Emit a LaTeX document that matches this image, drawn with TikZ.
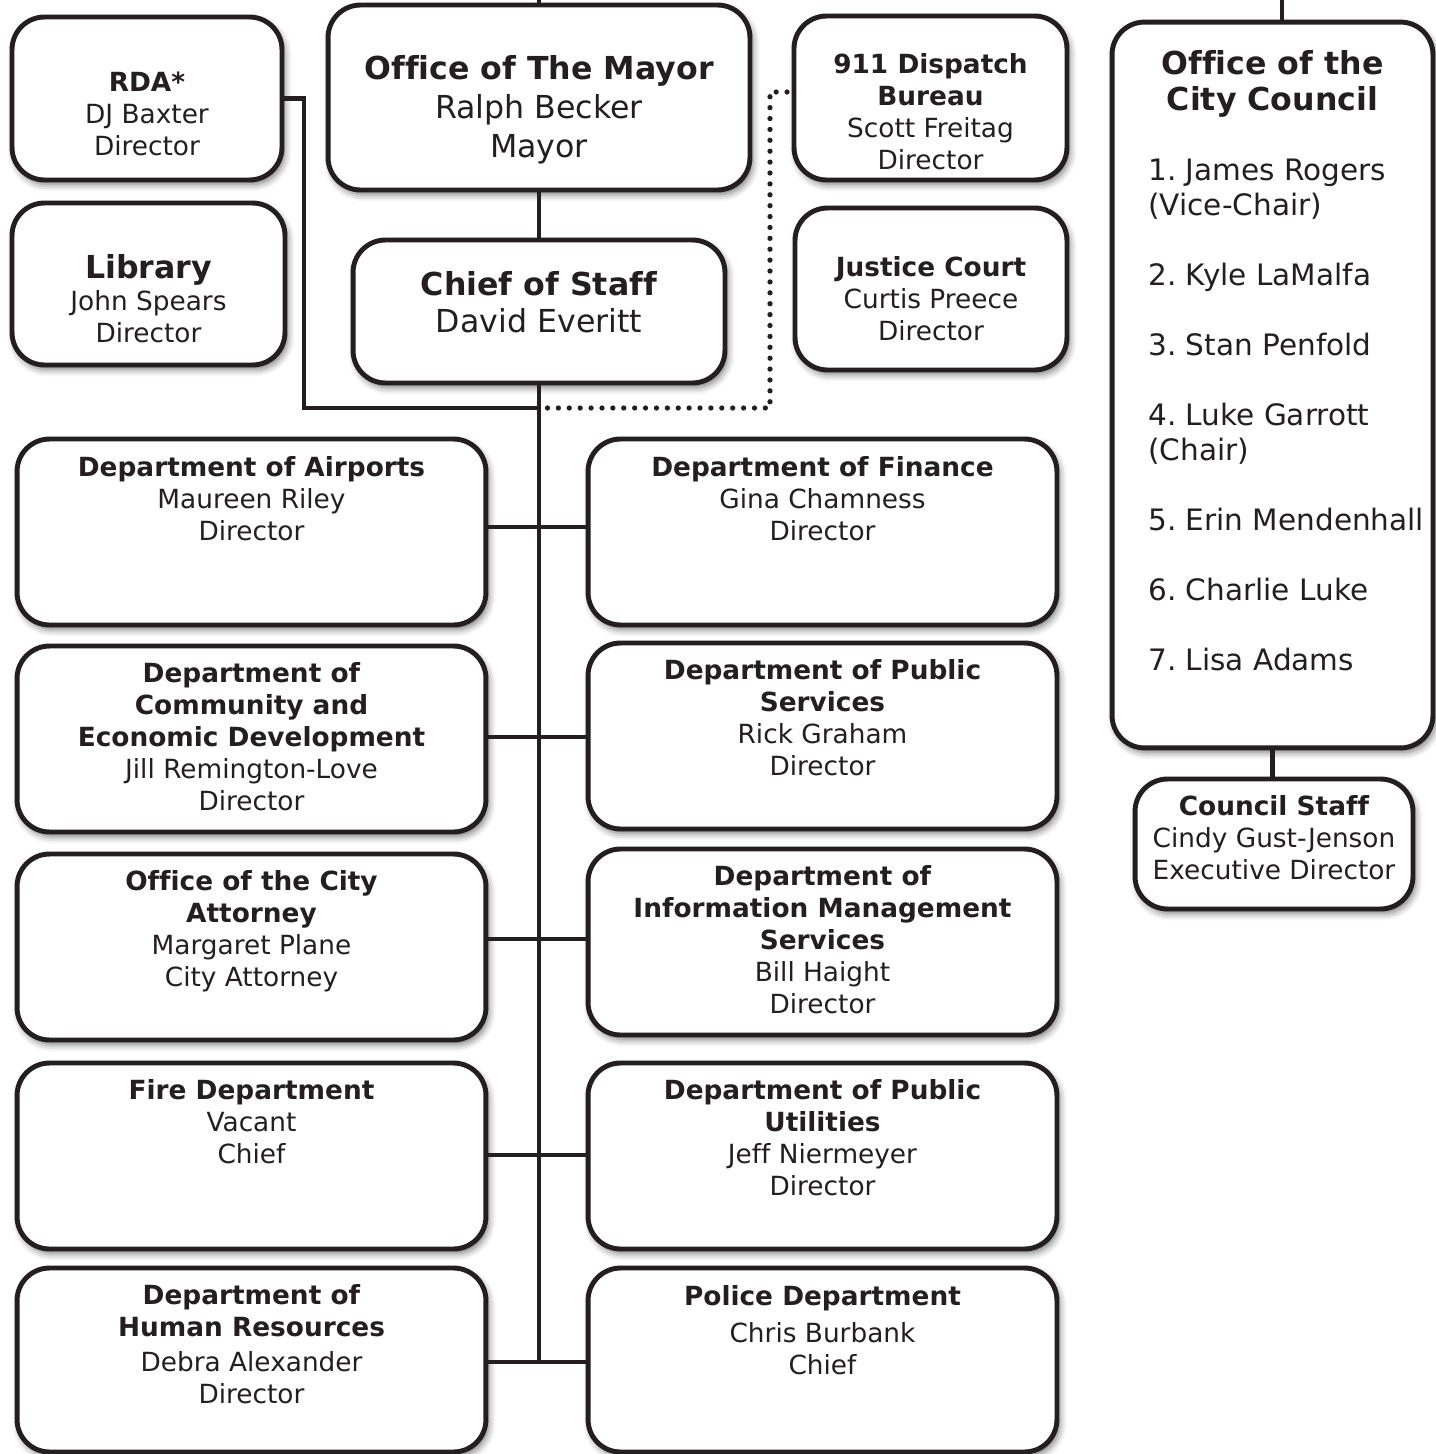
\documentclass[tikz,border=0pt]{standalone}
\usepackage{fontspec}
\setmainfont{DejaVu Sans}[Ligatures=NoCommon]
\frenchspacing
\usetikzlibrary{positioning,shadows.blur}
\definecolor{ink}{HTML}{231F20}

\begin{document}
\begin{tikzpicture}[x=0.02cm,y=-0.02cm,
    unit/.style={draw=ink,line width=2.8pt,rounded corners=0.65cm,fill=white,
      blur shadow={shadow xshift=1.5pt,shadow yshift=-2.5pt,shadow blur radius=4pt,shadow opacity=55}},
    department/.style={unit,minimum width=9.38cm,minimum height=3.72cm},
    small unit/.style={unit,minimum width=5.46cm,minimum height=3.24cm},
    caption/.style={text=ink,align=center,inner sep=0pt,font=\fontsize{15}{18.2}\selectfont},
    big caption/.style={caption,font=\fontsize{18}{22}\selectfont},
    link/.style={draw=ink,line width=2.3pt},
    dotted link/.style={link,line width=3pt,line cap=round,dash pattern=on 0pt off 6.2pt}]
  \useasboundingbox (0,0) rectangle (1436,1454);

  % top row
  \node[small unit,minimum width=5.4cm,minimum height=3.26cm] (rda) at (147,98.5) {};
  \node[small unit] (library) at (148.5,284) {};
  \node[unit,minimum width=8.44cm,minimum height=3.7cm] (mayor) at (539,97.5) {};
  \node[unit,minimum width=7.44cm,minimum height=2.86cm] (chief) at (539,311.5) {};
  \node[small unit,minimum height=3.28cm] (dispatch) at (930.5,98) {};
  \node[small unit,minimum width=5.44cm] (justice) at (931,289) {};

  \node[caption,below=1.14cm of rda.north] (rda text) {\textbf{RDA*}\\DJ Baxter\\Director};
  \node[caption,below=1.07cm of library.north] (library text)
    {{\fontsize{18}{22}\selectfont\bfseries Library}\\John Spears\\Director};
  \node[big caption,below=1.06cm of mayor.north] (mayor text)
    {\textbf{Office of The Mayor}\\Ralph Becker\\Mayor};
  \node[big caption,below=0.68cm of chief.north] (chief text)
    {\textbf{Chief of Staff}\\[-1pt]David Everitt};
  \node[caption,below=0.8cm of dispatch.north] (dispatch text)
    {\textbf{911 Dispatch}\\\textbf{Bureau}\\Scott Freitag\\Director};
  \node[caption,below=1.02cm of justice.north] (justice text)
    {\textbf{Justice Court}\\Curtis Preece\\Director};

  % city council
  \node[unit,minimum width=6.42cm,minimum height=14.52cm] (council) at (1272.5,385) {};
  \node[unit,minimum width=5.56cm,minimum height=2.6cm] (staff) at (1274,844) {};
  \node[caption,below=0.62cm of council.north,font=\fontsize{18}{20}\selectfont] (council text)
    {\textbf{Office of the}\\\textbf{City Council}};
  \node[caption,align=left,anchor=north west,font=\fontsize{16.8}{19.9}\selectfont] (members) at (1148,159)
    {1. James Rogers\\(Vice-Chair)\\[19.9pt]
     2. Kyle LaMalfa\\[19.9pt]
     3. Stan Penfold\\[19.9pt]
     4. Luke Garrott\\(Chair)\\[19.9pt]
     5. Erin Mendenhall\\[19.9pt]
     6. Charlie Luke\\[19.9pt]
     7. Lisa Adams};
  \node[caption,below=0.38cm of staff.north] (staff text)
    {\textbf{Council Staff}\\Cindy Gust-Jenson\\Executive Director};

  % departments
  \node[department] (airports) at (251.5,532) {};
  \node[department] (community) at (251.5,739) {};
  \node[department] (attorney) at (251.5,947) {};
  \node[department] (fire) at (251.5,1156) {};
  \node[department,minimum height=3.68cm] (hr) at (251.5,1360) {};
  \node[department] (finance) at (822.5,532) {};
  \node[department] (services) at (822.5,736) {};
  \node[department] (ims) at (822.5,942) {};
  \node[department] (utilities) at (822.5,1156) {};
  \node[department,minimum height=3.68cm] (police) at (822.5,1360) {};

  \node[caption,below=0.4cm of airports.north] (airports text)
    {\textbf{Department of Airports}\\Maureen Riley\\Director};
  \node[caption,below=0.38cm of community.north] (community text)
    {\textbf{Department of}\\\textbf{Community and}\\\textbf{Economic Development}\\Jill Remington-Love\\Director};
  \node[caption,below=0.38cm of attorney.north] (attorney text)
    {\textbf{Office of the City}\\\textbf{Attorney}\\Margaret Plane\\City Attorney};
  \node[caption,below=0.38cm of fire.north] (fire text)
    {\textbf{Fire Department}\\Vacant\\Chief};
  \node[caption,below=0.38cm of hr.north] (hr text)
    {\textbf{Department of}\\\textbf{Human Resources}\\[1.7pt]Debra Alexander\\Director};
  \node[caption,below=0.4cm of finance.north] (finance text)
    {\textbf{Department of Finance}\\Gina Chamness\\Director};
  \node[caption,below=0.38cm of services.north] (services text)
    {\textbf{Department of Public}\\\textbf{Services}\\Rick Graham\\Director};
  \node[caption,below=0.38cm of ims.north] (ims text)
    {\textbf{Department of}\\\textbf{Information Management}\\\textbf{Services}\\Bill Haight\\Director};
  \node[caption,below=0.38cm of utilities.north] (utilities text)
    {\textbf{Department of Public}\\\textbf{Utilities}\\Jeff Niermeyer\\Director};
  \node[caption,below=0.4cm of police.north] (police text)
    {\textbf{Police Department}\\[2.8pt]Chris Burbank\\Chief};

  % connectors
  \coordinate (mayor in) at (539,0);
  \coordinate (council in) at (1282,0);
  \coordinate (hub) at (539,408);
  \coordinate (rda corner) at (304,408);
  \coordinate (dot corner) at (770,408);
  \coordinate (spine end) at (539,1362);

  \draw[link] (mayor in) -- (mayor.north);
  \draw[link] (mayor.south) -- (chief.north);
  \draw[link] (chief.south) -- (spine end);
  \draw[link] (rda.east) -| (rda corner) -- (hub);
  \draw[dotted link] ([xshift=0.17cm]hub) -- (dot corner) |- ([yshift=0.12cm]dispatch.west);
  \foreach \l/\r/\y in {airports/finance/527,community/services/737,attorney/ims/939,
                        fire/utilities/1155,hr/police/1362}
    \draw[link] (\l.east |- 0,\y) -- ([xshift=0.08cm]\r.west |- 0,\y);
  \draw[link] (council in) -- (council in |- council.north);
  \draw[link] (council.south) -- (council.south |- staff.north);
\end{tikzpicture}
\end{document}
